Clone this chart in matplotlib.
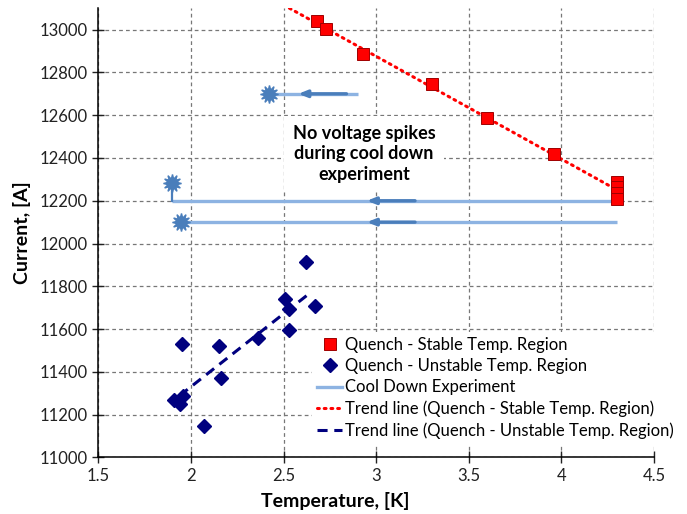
import numpy as np
import matplotlib
matplotlib.use("Agg")
from matplotlib import pyplot as plt
from matplotlib.lines import Line2D

plt.rcParams['font.family'] = ['Lato', 'DejaVu Sans']

# quench points, stable temperature region
stable_T = [2.68, 2.73, 2.93, 3.30, 3.60, 3.96, 4.30, 4.30, 4.30, 4.30]
stable_I = [13040, 13005, 12885, 12745, 12585, 12420, 12290, 12262, 12235, 12210]

# quench points, unstable temperature region
unstable_T = [2.62, 2.51, 2.67, 2.53, 2.53, 2.36, 1.95, 2.15, 2.16, 1.96, 1.91, 1.94, 2.07]
unstable_I = [11914, 11740, 11710, 11693, 11597, 11557, 11531, 11520, 11370, 11287, 11270, 11250, 11147]

# cool down experiments: start temperature, end temperature, current level, spike current
cool_I = [12700, 12200, 12100]
cool_T_start = [2.90, 4.28, 4.30]
cool_T_end = [2.42, 1.90, 1.945]
spike_I = [12700, 12285, 12100]
# darker arrow segments on the cool down lines
arrow_T_from = [2.84, 3.21, 3.21]
arrow_T_to = [2.58, 2.95, 2.95]

# trend line ranges
stable_trend_T = [2.50, 4.28]
unstable_trend_T = [1.94, 2.64]

x_ticks = [1.5, 2, 2.5, 3, 3.5, 4, 4.5]
y_ticks = list(range(11000, 13001, 200))

LIGHT = '#8DB3E2'
DARK = '#4A7EBB'
NAVY = '#00007F'

fig = plt.figure(figsize=(6.87, 5.14), dpi=100)
ax = fig.add_axes([0.143, 0.110, 0.809, 0.874])

ax.set_xlim(1.5, 4.5)
ax.set_ylim(11000, 13100)
ax.set_xticks(x_ticks)
ax.set_xticklabels(['1.5', '2', '2.5', '3', '3.5', '4', '4.5'])
ax.set_yticks(y_ticks)
ax.grid(True, linestyle=(0, (3, 2.5)), color='#777777', linewidth=0.9)
ax.set_axisbelow(True)
for s in ['top', 'right']:
    ax.spines[s].set_visible(False)
for s in ['left', 'bottom']:
    ax.spines[s].set_linewidth(1.1)
ax.tick_params(direction='inout', length=8, width=1, labelsize=12, colors='#222222')

# cool down lines
for i in range(len(cool_I)):
    ax.plot([cool_T_start[i], cool_T_end[i]], [cool_I[i], cool_I[i]], color=LIGHT, lw=2.4, zorder=3,
            solid_capstyle='butt')
    if spike_I[i] != cool_I[i]:
        ax.plot([cool_T_end[i], cool_T_end[i]], [cool_I[i], spike_I[i]], color=DARK, lw=1.6, zorder=3)
    ax.annotate('', xy=(arrow_T_to[i], cool_I[i]), xytext=(arrow_T_from[i], cool_I[i]),
                arrowprops=dict(arrowstyle='-|>,head_length=0.5,head_width=0.2', color=DARK, lw=2.4,
                                shrinkA=0, shrinkB=0), zorder=4)
    ax.plot(cool_T_end[i], spike_I[i], marker=(12, 1, 0), ms=13, color=DARK, mec=DARK, zorder=5)
    ax.plot(cool_T_end[i], spike_I[i], marker='o', ms=7, color=DARK, zorder=5)

# trend lines
p_s = np.polyfit(stable_T, stable_I, 1)
ts = np.linspace(stable_trend_T[0], stable_trend_T[1], 50)
ax.plot(ts, np.polyval(p_s, ts), color='red', lw=2.2, linestyle=(0, (0.6, 1.6)),
        dash_capstyle='round', zorder=4)

p_u = np.polyfit(unstable_T, unstable_I, 1)
tu = np.linspace(unstable_trend_T[0], unstable_trend_T[1], 50)
ax.plot(tu, np.polyval(p_u, tu), color=NAVY, lw=2.2, linestyle=(0, (3.3, 2.2)), zorder=4)

# markers
ax.plot(stable_T, stable_I, 's', ms=9, color='#FF0000', mec='#A00000', mew=0.7, zorder=6)
ax.plot(unstable_T, unstable_I, 'D', ms=7.5, color=NAVY, mec=NAVY, zorder=6)

ax.text(2.935, 12420, 'No voltage spikes\nduring cool down\nexperiment', ha='center', va='center',
        fontsize=13, fontweight='bold', linespacing=1.25, zorder=3,
        bbox=dict(boxstyle='square,pad=0.5', facecolor='white', edgecolor='none'))

ax.set_xlabel('Temperature, [K]', fontsize=14, fontweight='bold', x=0.426, labelpad=6)
ax.set_ylabel('Current, [A]', fontsize=14, fontweight='bold', labelpad=6)

handles = [
    Line2D([], [], marker='s', ls='none', ms=9, color='#FF0000', mec='#A00000', mew=0.7),
    Line2D([], [], marker='D', ls='none', ms=7, color=NAVY),
    Line2D([], [], color=LIGHT, lw=2.4),
    Line2D([], [], color='red', lw=2.2, linestyle=(0, (0.6, 1.6)), dash_capstyle='round'),
    Line2D([], [], color=NAVY, lw=2.2, linestyle=(0, (3.3, 2.2))),
]
labels = ['Quench - Stable Temp. Region', 'Quench - Unstable Temp. Region', 'Cool Down Experiment',
          'Trend line (Quench - Stable Temp. Region)', 'Trend line (Quench - Unstable Temp. Region)']
leg = ax.legend(handles, labels, loc='upper left', bbox_to_anchor=(0.385, 0.28), fontsize=12,
                frameon=True, framealpha=1, facecolor='white', edgecolor='none', fancybox=False,
                handlelength=1.5, handletextpad=0.15, labelspacing=0.32, borderpad=0.3,
                borderaxespad=0)
leg.set_zorder(7)

fig.savefig('out.png', dpi=100)
